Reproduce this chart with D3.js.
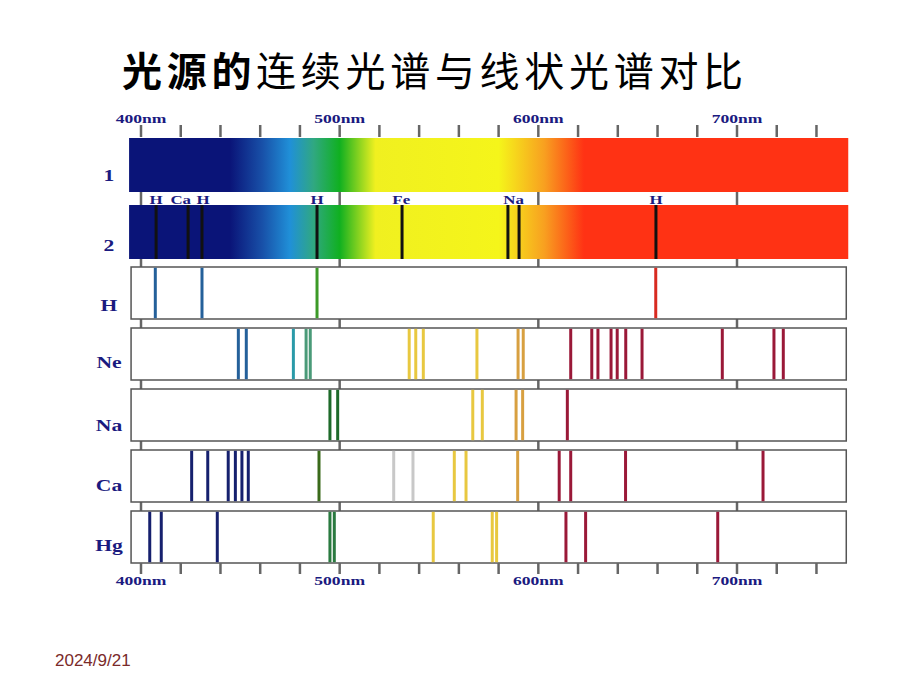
<!DOCTYPE html>
<html>

<head>
    <title>光源的连续光谱与线状光谱对比</title>
    <script src="https://d3js.org/d3.v7.min.js"></script>
    <style>
        body { margin: 0; background: #fff; }
        .title { font-family: "Noto Sans CJK SC", sans-serif; font-size: 40px; fill: #000; }
        .axis-label { font: bold 13px "Liberation Serif", serif; fill: #1a1a80; }
        .row-label { font: bold 16px "Liberation Serif", serif; fill: #1a1a80; }
        .mark-label { font: bold 13px "Liberation Serif", serif; fill: #1a1a80; }
        .tick { stroke: #666; stroke-width: 2.5px; }
        .box { fill: #fff; stroke: #555; stroke-width: 1.5px; }
        .date { font: 17px "Liberation Sans", Arial, sans-serif; fill: #7a2a2a; }
    </style>
</head>

<body>
    <script>
        // wavelengths in nm
        var tickValues = d3.range(400, 741, 20);
        var majorTicks = [400, 500, 600, 700];

        // absorption lines in the sun-like spectrum (row 2)
        var absorptionLines = [407.6, 423.7, 430.7, 488.6, 531.4, 584.7, 590.3, 659.2];
        var absorptionNames = ["H", "Ca", "H", "H", "Fe", "Na", "H"];
        var absorptionNameAt = [407.6, 420.0, 431.2, 488.6, 531.0, 587.5, 659.2];

        // emission rows: wavelength + colour key
        var rowNames = ["H", "Ne", "Na", "Ca", "Hg"];
        var hLines = [[407.2, "b"], [430.7, "b"], [488.6, "g"], [659.1, "R"]];
        var neLines = [[449.0, "b"], [453.0, "b"], [476.7, "t"], [483.1, "s"], [485.2, "s"],
            [535.0, "y"], [538.3, "y"], [542.1, "y"], [569.1, "y"], [589.8, "o"], [592.4, "o"],
            [616.3, "r"], [626.9, "r"], [630.0, "r"], [636.6, "r"], [639.7, "r"], [644.0, "r"],
            [652.2, "r"], [692.6, "r"], [718.6, "r"], [723.3, "r"]];
        var naLines = [[495.1, "d"], [499.0, "d"], [567.0, "y"], [571.8, "y"], [588.8, "o"],
            [592.1, "o"], [614.6, "r"]];
        var caLines = [[425.5, "n"], [433.6, "n"], [443.9, "n"], [447.5, "n"], [450.8, "n"],
            [454.0, "n"], [489.6, "G"], [527.2, "w"], [536.9, "w"], [557.7, "y"], [563.6, "y"],
            [589.6, "o"], [610.5, "r"], [616.3, "r"], [643.9, "r"], [713.1, "r"]];
        var hgLines = [[404.4, "n"], [410.2, "n"], [438.4, "n"], [495.1, "m"], [497.3, "m"],
            [547.1, "y"], [576.8, "y"], [579.0, "y"], [613.9, "r"], [623.8, "r"], [690.3, "r"]];
        var rows = [hLines, neLines, naLines, caLines, hgLines];

        // continuous spectrum colour stops (nm, colour)
        var gradientNm = [394, 444.8, 461, 475, 487, 500, 518, 580, 603, 623, 756];
        var gradientColors = ["#0a1478", "#0a1478", "#1850a8", "#2090d8", "#30a880", "#10b020",
            "#f0f020", "#f5f51a", "#f8a020", "#ff3214", "#ff3214"];

        var lineColor = {
            b: "#24609a", t: "#2a9aa8", s: "#4a9a78", g: "#3c9a28", d: "#1e6a2a", G: "#3a6a1a",
            m: "#2a7a40", y: "#e8c840", o: "#d8a040", w: "#c8c8c8", r: "#9a1838", R: "#d82a20",
            n: "#16206e"
        };

        var width = 920, height = 690;
        var x = d3.scaleLinear().domain([400, 700]).range([141, 737]);

        var svg = d3.select("body").append("svg")
            .attr("width", width)
            .attr("height", height);

        svg.append("text")
            .attr("class", "title")
            .attr("x", 122)
            .attr("y", 86)
            .style("letter-spacing", "4.7px")
            .selectAll("tspan")
            .data([["光源的", 700], ["连续光谱与线状光谱对比", 400]])
            .enter().append("tspan")
            .style("font-weight", d => d[1])
            .text(d => d[0]);

        var grad = svg.append("defs").append("linearGradient")
            .attr("id", "spec")
            .attr("gradientUnits", "userSpaceOnUse")
            .attr("x1", x(394)).attr("x2", x(756))
            .attr("y1", 0).attr("y2", 0);
        grad.selectAll("stop")
            .data(gradientNm)
            .enter().append("stop")
            .attr("offset", d => (d - 394) / (756 - 394))
            .attr("stop-color", (d, i) => gradientColors[i]);

        // wide serif labels, stretched horizontally like the original
        function wideText(sel, sx) {
            sel.attr("text-anchor", "middle")
                .attr("transform", function () {
                    var t = d3.select(this);
                    var px = +t.attr("data-x"), py = +t.attr("data-y");
                    return "translate(" + px + "," + py + ") scale(" + sx + ",1)";
                });
        }

        // top axis
        var topAxis = svg.append("g");
        topAxis.selectAll("line")
            .data(tickValues)
            .enter().append("line")
            .attr("class", "tick")
            .attr("x1", d => x(d)).attr("x2", d => x(d))
            .attr("y1", 125).attr("y2", 137);
        topAxis.selectAll("text")
            .data(majorTicks)
            .enter().append("text")
            .attr("class", "axis-label")
            .attr("data-x", d => x(d))
            .attr("data-y", 123)
            .text(d => d + "nm")
            .call(wideText, 1.35);

        // bands and rows layout
        var bandLeft = x(394), bandRight = x(756);
        var boxLeft = x(395), boxRight = x(755);
        var bandTops = [138, 205];
        var bandH = 54;
        var rowTops = [267, 328, 389, 450, 511];
        var rowH = 52;

        // gap ticks at 100nm between bands/rows
        var edges = [[192, 205], [259, 267], [319, 328], [380, 389], [441, 450], [502, 511]];
        edges.forEach(function (e) {
            svg.append("g").selectAll("line")
                .data(majorTicks)
                .enter().append("line")
                .attr("class", "tick")
                .attr("x1", d => x(d)).attr("x2", d => x(d))
                .attr("y1", e[0]).attr("y2", e[1]);
        });

        svg.selectAll(".band")
            .data(bandTops)
            .enter().append("rect")
            .attr("class", "band")
            .attr("x", bandLeft)
            .attr("y", d => d)
            .attr("width", bandRight - bandLeft)
            .attr("height", bandH)
            .attr("fill", "url(#spec)");

        svg.append("g").selectAll("line")
            .data(absorptionLines)
            .enter().append("line")
            .attr("x1", d => x(d)).attr("x2", d => x(d))
            .attr("y1", bandTops[1]).attr("y2", bandTops[1] + bandH)
            .attr("stroke", "#111")
            .attr("stroke-width", 3);

        svg.append("g").selectAll("text")
            .data(absorptionNames)
            .enter().append("text")
            .attr("class", "mark-label")
            .attr("data-x", (d, i) => x(absorptionNameAt[i]))
            .attr("data-y", 204)
            .text(d => d)
            .call(wideText, 1.3);

        rows.forEach(function (lines, r) {
            var g = svg.append("g");
            g.append("rect")
                .attr("class", "box")
                .attr("x", boxLeft)
                .attr("y", rowTops[r])
                .attr("width", boxRight - boxLeft)
                .attr("height", rowH);
            g.selectAll(".ln")
                .data(lines)
                .enter().append("line")
                .attr("class", "ln")
                .attr("x1", d => x(d[0])).attr("x2", d => x(d[0]))
                .attr("y1", rowTops[r] + 0.8).attr("y2", rowTops[r] + rowH - 0.8)
                .attr("stroke", d => lineColor[d[1]])
                .attr("stroke-width", 3);
        });

        // row labels
        var labelText = ["1", "2"].concat(rowNames);
        var labelY = [181, 251, 311, 368, 431, 491, 551];
        svg.append("g").selectAll("text")
            .data(labelText)
            .enter().append("text")
            .attr("class", "row-label")
            .attr("data-x", 109)
            .attr("data-y", (d, i) => labelY[i])
            .text(d => d)
            .call(wideText, 1.35);

        // bottom axis
        var botAxis = svg.append("g");
        botAxis.selectAll("line")
            .data(tickValues)
            .enter().append("line")
            .attr("class", "tick")
            .attr("x1", d => x(d)).attr("x2", d => x(d))
            .attr("y1", 563).attr("y2", 574);
        botAxis.selectAll("text")
            .data(majorTicks)
            .enter().append("text")
            .attr("class", "axis-label")
            .attr("data-x", d => x(d))
            .attr("data-y", 585)
            .text(d => d + "nm")
            .call(wideText, 1.35);

        svg.append("text")
            .attr("class", "date")
            .attr("x", 55)
            .attr("y", 666)
            .text("2024/9/21");
    </script>
</body>

</html>
